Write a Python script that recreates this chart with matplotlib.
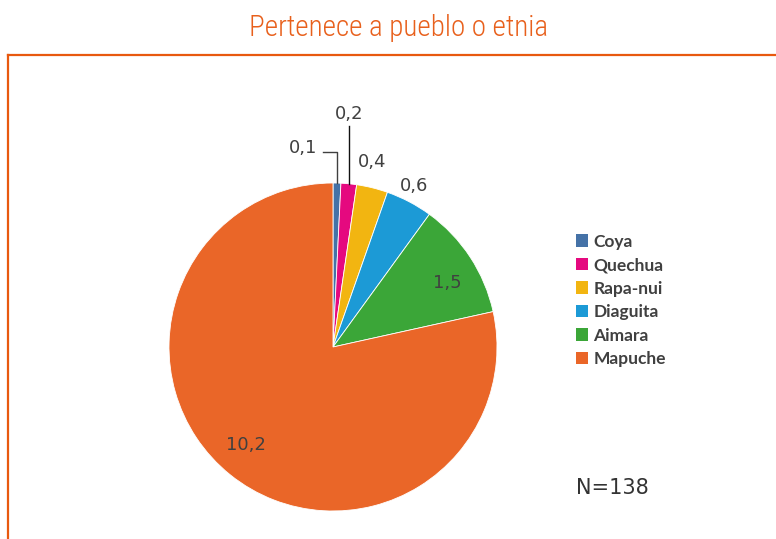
import matplotlib
matplotlib.use('Agg')
import matplotlib.pyplot as plt
from matplotlib.lines import Line2D
import numpy as np

# data
categories = ['Coya', 'Quechua', 'Rapa-nui', 'Diaguita', 'Aimara', 'Mapuche']
values = [0.1, 0.2, 0.4, 0.6, 1.5, 10.2]
value_labels = ['0,1', '0,2', '0,4', '0,6', '1,5', '10,2']
colors = ['#4572A7', '#E5097F', '#F2B511', '#1C9AD6', '#3BA638', '#EA6628']
n_text = 'N=138'
title = 'Pertenece a pueblo o etnia'

W, H = 776, 539
R_PX = 164           # pie radius in pixels
CX, CY = 333, 347    # pie centre (pixels from top-left)

fig = plt.figure(figsize=(W / 100, H / 100), dpi=100)
ax = fig.add_axes([0, 0, 1, 1])

wedges, _ = ax.pie(values, colors=colors, startangle=90, counterclock=False,
                   radius=1.0, wedgeprops=dict(edgecolor='white', linewidth=0.6))

ax.set_xlim(-CX / R_PX, (W - CX) / R_PX)
ax.set_ylim(-(H - CY) / R_PX, CY / R_PX)
ax.set_aspect('equal')
ax.axis('off')

# value labels (radius in pie units, small angle nudge in degrees)
label_r = [None, None, 1.15, 1.10, 0.80, 0.80]
label_nudge = [0, 0, 2, 1, -4, -3]
txt_kw = dict(fontsize=13, color='#404040', ha='center', va='center')
for w, lab, r, d in zip(wedges, value_labels, label_r, label_nudge):
    mid = np.deg2rad((w.theta1 + w.theta2) / 2 + d)
    if r is not None:
        ax.text(r * np.cos(mid), r * np.sin(mid), lab, **txt_kw)

# leader lines for the two smallest slices
m0 = np.deg2rad((wedges[0].theta1 + wedges[0].theta2) / 2)
x0, y0 = np.cos(m0), np.sin(m0)
ax.add_line(Line2D([x0, x0, x0 - 0.085], [y0, 1.19, 1.19], color='#404040', lw=1.0))
ax.text(x0 - 0.205, 1.215, value_labels[0], **txt_kw)

m1 = np.deg2rad((wedges[1].theta1 + wedges[1].theta2) / 2)
x1, y1 = np.cos(m1), np.sin(m1)
ax.add_line(Line2D([x1, x1], [y1, 1.35], color='#111111', lw=1.0))
ax.text(x1, 1.42, value_labels[1], **txt_kw)

# legend
leg = fig.legend(wedges, categories, loc='upper left',
                 bbox_to_anchor=(567 / W, 1 - 225 / H), frameon=False,
                 prop=dict(family='Lato', weight='bold', size=12.5),
                 handlelength=0.72, handleheight=0.72, handletextpad=0.3,
                 labelspacing=0.43, borderpad=0)
for t in leg.get_texts():
    t.set_color('#404040')
for p in leg.get_patches():
    p.set_edgecolor('none')

fig.text(612 / W, 1 - 488 / H, n_text, fontsize=15, color='#333333',
         ha='center', va='center')

# title and orange frame
fig.text(399 / W, 1 - 28 / H, title, fontsize=21, color='#E8601C',
         family=['Roboto Condensed', 'Lato'], weight='light',
         ha='center', va='center')
fig.add_artist(Line2D([8 / W, 1], [1 - 55 / H, 1 - 55 / H], transform=fig.transFigure,
                      color='#E8590F', lw=1.6))
fig.add_artist(Line2D([8 / W, 8 / W], [0, 1 - 55 / H], transform=fig.transFigure,
                      color='#E8590F', lw=1.6))

fig.savefig('out.png', dpi=100)
